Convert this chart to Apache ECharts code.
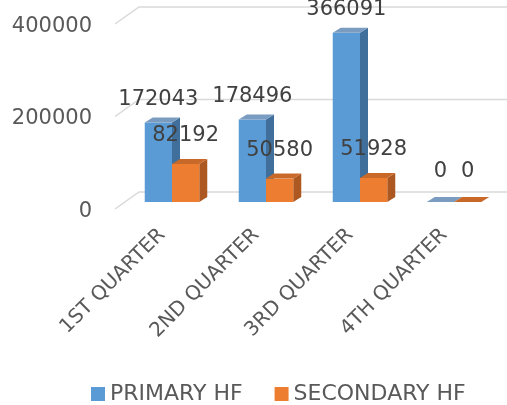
<!DOCTYPE html>
<html>
<head>
<meta charset="utf-8">
<script src="https://cdn.jsdelivr.net/npm/echarts@6/dist/echarts.min.js"></script>
<style>html,body{margin:0;padding:0;background:#fff}#c{width:507px;height:405px}</style>
</head>
<body>
<div id="c"></div>
<script>
const categories = ['1ST QUARTER', '2ND QUARTER', '3RD QUARTER', '4TH QUARTER'];
const primaryHF = [172043, 178496, 366091, 0];
const secondaryHF = [82192, 50580, 51928, 0];
const yTicks = [0, 200000, 400000];
const seriesNames = ['PRIMARY HF', 'SECONDARY HF'];

const FONT = 'DejaVu Sans';
const palette = [
  { front: '#5b9bd5', side: '#3f6f9a', top: '#7a9cc0', label: '#404040', off: 23 },
  { front: '#ed7d31', side: '#ad5820', top: '#c8692a', label: '#404040', off: 28 }
];
const DX = 8, DY = -5;

function barRender(which) {
  return function (params, api) {
    const idx = api.value(0), v = api.value(1);
    const base = api.coord([idx, 0]);
    const top = api.coord([idx, v]);
    const band = api.size([1, 0])[0];
    const w = band * 0.29;
    const x0 = which === 0 ? base[0] - w : base[0];
    const p = palette[which];
    const yt = top[1], yb = base[1];
    return {
      type: 'group',
      children: [
        { type: 'polygon', shape: { points: [[x0 + w, yt], [x0 + w + DX, yt + DY], [x0 + w + DX, yb + DY], [x0 + w, yb]] }, style: { fill: p.side } },
        { type: 'rect', shape: { x: x0, y: yt, width: w, height: yb - yt }, style: { fill: p.front } },
        { type: 'polygon', shape: { points: [[x0, yt], [x0 + DX, yt + DY], [x0 + w + DX, yt + DY], [x0 + w, yt]] }, style: { fill: p.top } },
        { type: 'text', x: x0 + w / 2, y: yt - (v === 0 ? 30 : p.off), style: { text: String(v), textAlign: 'center', textVerticalAlign: 'middle', fill: p.label, font: '21px "' + FONT + '"' }, z2: 10 }
      ]
    };
  };
}

const chart = echarts.init(document.getElementById('c'));
chart.setOption({
  animation: false,
  backgroundColor: '#ffffff',
  grid: { left: 125, right: 6, top: 17, bottom: 203 },
  legend: {
    data: seriesNames,
    left: 86, top: 378,
    icon: 'rect', itemWidth: 14, itemHeight: 14, itemGap: 32,
    textStyle: { color: '#595959', fontSize: 22, fontFamily: FONT }
  },
  xAxis: {
    type: 'category',
    data: categories,
    axisLine: { show: false },
    axisTick: { show: false },
    axisLabel: { rotate: 45, interval: 0, margin: 20, padding: [0, 14, 0, 0], color: '#595959', fontSize: 20, fontFamily: FONT }
  },
  yAxis: {
    type: 'value',
    min: 0, max: 400000, interval: 200000,
    axisLine: { show: false },
    axisTick: { show: false },
    splitLine: { show: false },
    axisLabel: {
      margin: 33, color: '#595959', fontSize: 21, fontFamily: FONT,
      verticalAlign: 'top', lineHeight: 19,
      formatter: function (v) { return String(v); }
    }
  },
  series: [
    {
      type: 'custom',
      silent: true,
      z: 1,
      data: yTicks.map(v => [0, v]),
      renderItem: function (params, api) {
        const p = api.coord([0, api.value(1)]);
        const band = api.size([1, 0])[0];
        const L = p[0] - band / 2;
        const y = p[1];
        return {
          type: 'polyline',
          shape: { points: [[L - 10, y + 7], [L + 14, y - 10], [api.getWidth(), y - 10]] },
          style: { stroke: '#d9d9d9', lineWidth: 1.5, fill: null }
        };
      }
    },
    {
      name: seriesNames[0],
      type: 'custom',
      z: 2,
      itemStyle: { color: palette[0].front },
      data: primaryHF.map((v, i) => [i, v]),
      renderItem: barRender(0)
    },
    {
      name: seriesNames[1],
      type: 'custom',
      z: 3,
      itemStyle: { color: palette[1].front },
      data: secondaryHF.map((v, i) => [i, v]),
      renderItem: barRender(1)
    }
  ]
});
</script>
</body>
</html>
